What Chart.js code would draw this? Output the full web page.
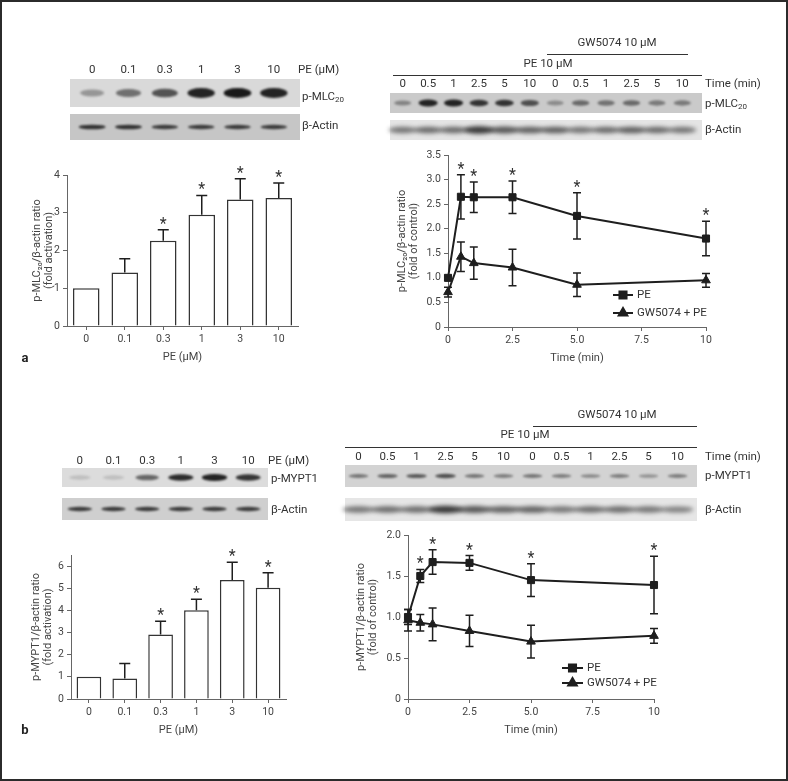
<!DOCTYPE html>
<html>
<head>
<meta charset="utf-8">
<script src="https://cdn.jsdelivr.net/npm/chart.js@4.4.0/dist/chart.umd.min.js"></script>
<style>
  html, body { margin: 0; padding: 0; background: #fff; }
  #fig { position: relative; width: 788px; height: 781px; overflow: hidden; font-family: Roboto, "Noto Sans", sans-serif; color: #333; }
  #frame { position: absolute; left: 0; top: 0; width: 788px; height: 781px; box-sizing: border-box; border: 2px solid #2b2b2b; pointer-events: none; z-index: 5; }
  canvas { position: absolute; }
  .t { position: absolute; font-size: 11.5px; line-height: 1; white-space: nowrap; transform: translate(-50%, -50%); }
  .l { position: absolute; font-size: 11.5px; line-height: 1; white-space: nowrap; transform: translate(0, -50%); }
  .l sub { font-size: 8px; vertical-align: -2px; }
  .panel { position: absolute; font-size: 13px; font-weight: bold; color: #222; transform: translate(-50%, -50%); }
</style>
</head>
<body>
<div id="fig">
  <canvas id="blots" width="788" height="781" style="left:0;top:0"></canvas>
  <canvas id="barA"></canvas>
  <canvas id="lineA"></canvas>
  <canvas id="barB"></canvas>
  <canvas id="lineB"></canvas>
  <div id="labels"></div>
  <div class="panel" style="left:25px;top:357px">a</div>
  <div class="panel" style="left:25px;top:729px">b</div>
  <div id="frame"></div>
</div>
<script>
// categories
const doseLabels = ["0", "0.1", "0.3", "1", "3", "10"];
const timeLabels = ["0", "0.5", "1", "2.5", "5", "10"];
const timePoints = [0, 0.5, 1, 2.5, 5, 10];

// p-MLC20, dose response
const mlcDose = [1.0, 1.42, 2.26, 2.95, 3.35, 3.39];
const mlcDoseErr = [0, 0.36, 0.29, 0.51, 0.55, 0.40];
const mlcDoseStar = [false, false, true, true, true, true];

// p-MLC20, time course
const mlcPE = [1.0, 2.65, 2.64, 2.64, 2.26, 1.80];
const mlcPEErr = [0.05, 0.45, 0.31, 0.33, 0.47, 0.35];
const mlcGW = [0.71, 1.43, 1.30, 1.21, 0.86, 0.95];
const mlcGWErr = [0.1, 0.3, 0.33, 0.37, 0.24, 0.14];
const mlcTimeStar = [false, true, true, true, true, true];

// p-MYPT1, dose response
const myptDose = [1.0, 0.92, 2.91, 4.01, 5.37, 5.02];
const myptDoseErr = [0, 0.68, 0.6, 0.49, 0.8, 0.68];
const myptDoseStar = [false, false, true, true, true, true];

// p-MYPT1, time course
const myptPE = [1.0, 1.50, 1.67, 1.66, 1.45, 1.39];
const myptPEErr = [0.09, 0.08, 0.15, 0.09, 0.2, 0.35];
const myptGW = [0.96, 0.93, 0.91, 0.83, 0.70, 0.77];
const myptGWErr = [0.13, 0.1, 0.2, 0.19, 0.2, 0.09];
const myptTimeStar = [false, true, true, true, true, true];

// blot band strengths (0..1)
const blotMlcDose = [0.35, 0.55, 0.7, 0.95, 1.0, 0.95];
const blotActinDoseA = [0.85, 0.85, 0.8, 0.8, 0.8, 0.8];
const blotMlcTime = [0.4, 0.95, 0.95, 0.85, 0.85, 0.7, 0.35, 0.55, 0.5, 0.55, 0.45, 0.45];
const blotActinTimeA = [0.55, 0.6, 0.6, 0.85, 0.7, 0.65, 0.65, 0.55, 0.6, 0.65, 0.6, 0.55];
const blotMyptDose = [0.15, 0.15, 0.6, 0.9, 0.95, 0.85];
const blotActinDoseB = [0.8, 0.8, 0.8, 0.8, 0.8, 0.8];
const blotMyptTime = [0.5, 0.6, 0.65, 0.7, 0.5, 0.45, 0.5, 0.45, 0.4, 0.45, 0.35, 0.45];
const blotActinTimeB = [0.55, 0.6, 0.6, 0.85, 0.7, 0.65, 0.65, 0.55, 0.6, 0.6, 0.55, 0.5];

const FONT = "Roboto, 'Noto Sans', sans-serif";
const INK = "#1e1e1e";
const AXIS = "#666";

// ---------- western blots ----------
const bctx = document.getElementById("blots").getContext("2d");
const labelBox = document.getElementById("labels");

function addText(cls, x, y, html) {
  const d = document.createElement("div");
  d.className = cls;
  d.style.left = x + "px";
  d.style.top = y + "px";
  d.innerHTML = html;
  labelBox.appendChild(d);
}

function drawBlot(r, lanes, smear) {
  bctx.fillStyle = r.bg;
  bctx.fillRect(r.x, r.y, r.w, r.h);
  const step = (r.l1 - r.l0) / lanes.length;
  const cy = r.y + r.h / 2;
  lanes.forEach((v, i) => {
    const cx = r.l0 + step * (i + 0.5);
    bctx.save();
    bctx.filter = "blur(" + (smear ? 2 : 1) + "px)";
    bctx.fillStyle = "rgba(25,25,25," + v + ")";
    bctx.beginPath();
    const rx = step * (smear ? 0.6 : 0.38) * (0.8 + 0.2 * v);
    const ry = r.band * (0.55 + 0.45 * v);
    bctx.ellipse(cx, cy, rx, ry, 0, 0, Math.PI * 2);
    bctx.fill();
    bctx.restore();
  });
}

function laneLabels(l0, l1, y, labels) {
  const step = (l1 - l0) / labels.length;
  labels.forEach((s, i) => addText("t", l0 + step * (i + 0.5), y, s));
}

function hline(x0, x1, y) {
  bctx.strokeStyle = "#333";
  bctx.lineWidth = 1;
  bctx.beginPath();
  bctx.moveTo(x0, y + 0.5);
  bctx.lineTo(x1, y + 0.5);
  bctx.stroke();
}

const timeLanes = timeLabels.concat(timeLabels);

// a, left
drawBlot({x: 70, y: 79, w: 230, h: 28, l0: 74, l1: 292, band: 5, bg: "#d9d9d9"}, blotMlcDose, false);
drawBlot({x: 70, y: 114, w: 230, h: 26, l0: 74, l1: 292, band: 2.5, bg: "#c6c6c6"}, blotActinDoseA, false);
laneLabels(74, 292, 70, doseLabels);
addText("l", 298, 70, "PE (μM)");
addText("l", 302, 97, "p-MLC<sub>20</sub>");
addText("l", 302, 126, "β-Actin");

// a, right
drawBlot({x: 390, y: 93, w: 312, h: 20, l0: 390, l1: 695, band: 3.5, bg: "#cacaca"}, blotMlcTime, false);
drawBlot({x: 390, y: 120, w: 312, h: 20, l0: 390, l1: 695, band: 4, bg: "#e4e4e4"}, blotActinTimeA, true);
laneLabels(390, 695, 84, timeLanes);
hline(393, 702, 75);
hline(547, 688, 54);
addText("t", 548, 64, "PE 10 μM");
addText("t", 617, 43, "GW5074 10 μM");
addText("l", 705, 84, "Time (min)");
addText("l", 705, 104, "p-MLC<sub>20</sub>");
addText("l", 705, 130, "β-Actin");

// b, left
drawBlot({x: 62, y: 468, w: 206, h: 19, l0: 63, l1: 265, band: 3.5, bg: "#dcdcdc"}, blotMyptDose, false);
drawBlot({x: 62, y: 498, w: 206, h: 22, l0: 63, l1: 265, band: 2.5, bg: "#cfcfcf"}, blotActinDoseB, false);
laneLabels(63, 265, 461, doseLabels);
addText("l", 268, 461, "PE (μM)");
addText("l", 271, 479, "p-MYPT1");
addText("l", 271, 510, "β-Actin");

// b, right
drawBlot({x: 345, y: 465, w: 352, h: 22, l0: 344, l1: 692, band: 2.5, bg: "#d3d3d3"}, blotMyptTime, false);
drawBlot({x: 345, y: 498, w: 352, h: 23, l0: 344, l1: 692, band: 4, bg: "#e6e6e6"}, blotActinTimeB, true);
laneLabels(344, 692, 457, timeLanes);
hline(345, 697, 447);
hline(533, 697, 426);
addText("t", 525, 435, "PE 10 μM");
addText("t", 617, 415, "GW5074 10 μM");
addText("l", 705, 457, "Time (min)");
addText("l", 705, 476, "p-MYPT1");
addText("l", 705, 510, "β-Actin");

// ---------- plugins ----------
const errorBars = {
  id: "errorBars",
  afterDatasetsDraw(chart, args, opts) {
    const ctx = chart.ctx;
    const ys = chart.scales.y;
    chart.data.datasets.forEach((ds, i) => {
      if (!ds.errors) return;
      const meta = chart.getDatasetMeta(i);
      meta.data.forEach((el, j) => {
        const raw = ds.data[j];
        const val = typeof raw === "object" ? raw.y : raw;
        const e = ds.errors[j];
        const top = ys.getPixelForValue(val + e);
        const bot = opts.oneSided ? ys.getPixelForValue(val) : ys.getPixelForValue(val - e);
        ctx.save();
        ctx.strokeStyle = INK;
        ctx.lineWidth = opts.width || 1.5;
        if (e > 0) {
          ctx.beginPath();
          ctx.moveTo(el.x, top);
          ctx.lineTo(el.x, bot);
          ctx.moveTo(el.x - opts.cap, top);
          ctx.lineTo(el.x + opts.cap, top);
          if (!opts.oneSided) {
            ctx.moveTo(el.x - opts.cap, bot);
            ctx.lineTo(el.x + opts.cap, bot);
          }
          ctx.stroke();
        }
        if (ds.stars && ds.stars[j]) {
          ctx.fillStyle = "#333";
          ctx.font = "16px " + FONT;
          ctx.textAlign = "center";
          ctx.textBaseline = "alphabetic";
          ctx.fillText("*", el.x, top - 1);
        }
        ctx.restore();
      });
    });
  }
};

const lineLegend = {
  id: "lineLegend",
  afterDraw(chart, args, opts) {
    if (!opts.rows) return;
    const ctx = chart.ctx;
    const area = chart.chartArea;
    chart.data.datasets.forEach((ds, i) => {
      const y = area.bottom - opts.rows[i];
      const x0 = area.right - opts.x0;
      const x1 = area.right - opts.x1;
      ctx.save();
      ctx.strokeStyle = INK;
      ctx.fillStyle = INK;
      ctx.lineWidth = 2;
      ctx.beginPath();
      ctx.moveTo(x0, y);
      ctx.lineTo(x1, y);
      ctx.stroke();
      Chart.helpers.drawPoint(ctx, {pointStyle: ds.pointStyle, radius: ds.pointRadius, rotation: 0, borderWidth: 1}, (x0 + x1) / 2, y);
      ctx.fillStyle = "#333";
      ctx.font = "11.5px " + FONT;
      ctx.textAlign = "left";
      ctx.textBaseline = "middle";
      ctx.fillText(ds.label, x1 + 4, y + 0.5);
      ctx.restore();
    });
  }
};

// ---------- chart helpers ----------
function place(id, left, top, w, h) {
  const c = document.getElementById(id);
  c.width = w;
  c.height = h;
  c.style.left = left + "px";
  c.style.top = top + "px";
  c.style.width = w + "px";
  c.style.height = h + "px";
  return c;
}

function yAxis(width, max, step, title, fmt, bounds) {
  return {
    min: 0, max: max,
    afterFit: s => { s.width = width; },
    border: {display: true, color: AXIS, width: 1},
    grid: {display: true, drawOnChartArea: false, drawTicks: true, tickLength: 4, color: AXIS},
    ticks: {stepSize: step, includeBounds: bounds, color: "#444", padding: 3, font: {size: 10.5, family: FONT}, callback: fmt},
    title: {display: true, text: title, color: "#444", padding: 0, font: {size: 11, family: FONT, lineHeight: 1.1}}
  };
}

function xTitle(text) {
  return {display: true, text: text, color: "#444", padding: 0, font: {size: 11, family: FONT, lineHeight: 1.2}};
}

function barChart(id, box, labels, values, errs, stars, yMax, yTitle) {
  place(id, box.left, box.top, box.w, box.h);
  return new Chart(document.getElementById(id), {
    type: "bar",
    data: {
      labels: labels,
      datasets: [{
        data: values,
        errors: errs,
        stars: stars,
        backgroundColor: "#fff",
        borderColor: "#333",
        borderWidth: 1.5,
        barPercentage: 0.82,
        categoryPercentage: 0.84
      }]
    },
    options: {
      responsive: false,
      animation: false,
      layout: {padding: {top: 15, right: 12, left: 0, bottom: 0}},
      plugins: {legend: {display: false}, tooltip: {enabled: false}, errorBars: {oneSided: true, cap: 5.5, width: 1.5}},
      scales: {
        x: {
          afterFit: s => { s.height = 38; },
          border: {display: true, color: AXIS, width: 1},
          grid: {display: true, offset: false, drawOnChartArea: false, drawTicks: true, tickLength: 4, color: AXIS},
          ticks: {color: "#444", padding: 3, font: {size: 10.5, family: FONT}},
          title: xTitle("PE (μM)")
        },
        y: yAxis(box.yw, yMax, 1, yTitle, v => v, false)
      }
    },
    plugins: [errorBars]
  });
}

function lineChart(id, box, pe, peErr, gw, gwErr, stars, yMax, yTitle, legendRows) {
  place(id, box.left, box.top, box.w, box.h);
  const pts = arr => timePoints.map((t, i) => ({x: t, y: arr[i]}));
  const common = {borderColor: INK, backgroundColor: INK, borderWidth: 2, pointBorderWidth: 1, pointRadius: 5, tension: 0, clip: false};
  return new Chart(document.getElementById(id), {
    type: "line",
    data: {
      datasets: [
        Object.assign({label: "PE", data: pts(pe), errors: peErr, stars: stars, pointStyle: "rect"}, common),
        Object.assign({label: "GW5074 + PE", data: pts(gw), errors: gwErr, pointStyle: "triangle"}, common)
      ]
    },
    options: {
      responsive: false,
      animation: false,
      layout: {padding: {top: 15, right: 12, left: 0, bottom: 0}},
      plugins: {
        legend: {display: false}, tooltip: {enabled: false},
        errorBars: {oneSided: false, cap: 4, width: 1.5},
        lineLegend: legendRows
      },
      scales: {
        x: {
          type: "linear", min: 0, max: 10,
          afterFit: s => { s.height = 38; },
          border: {display: true, color: AXIS, width: 1},
          grid: {display: true, drawOnChartArea: false, drawTicks: true, tickLength: 4, color: AXIS},
          ticks: {stepSize: 2.5, color: "#444", padding: 3, font: {size: 10.5, family: FONT},
            callback: v => (v === 0 || v === 10) ? String(v) : v.toFixed(1)},
          title: xTitle("Time (min)")
        },
        y: yAxis(box.yw, yMax, 0.5, yTitle, v => v === 0 ? "0" : v.toFixed(1), true)
      }
    },
    plugins: [errorBars, lineLegend]
  });
}

// ---------- charts ----------
barChart("barA", {left: 31, top: 160, w: 279, h: 204, yw: 36},
  doseLabels, mlcDose, mlcDoseErr, mlcDoseStar, 4,
  ["p-MLC₂₀/β-actin ratio", "(fold activation)"]);

lineChart("lineA", {left: 396, top: 140, w: 322, h: 225, yw: 52},
  mlcPE, mlcPEErr, mlcGW, mlcGWErr, mlcTimeStar, 3.5,
  ["p-MLC₂₀/β-actin ratio", "(fold of control)"],
  {rows: [32, 14], x0: 93, x1: 73});

barChart("barB", {left: 30, top: 540, w: 268, h: 197, yw: 41},
  doseLabels, myptDose, myptDoseErr, myptDoseStar, 6.5,
  ["p-MYPT1/β-actin ratio", "(fold activation)"]);

lineChart("lineB", {left: 355, top: 520, w: 311, h: 217, yw: 53},
  myptPE, myptPEErr, myptGW, myptGWErr, myptTimeStar, 2,
  ["p-MYPT1/β-actin ratio", "(fold of control)"],
  {rows: [31, 16], x0: 92, x1: 71});
</script>
</body>
</html>
